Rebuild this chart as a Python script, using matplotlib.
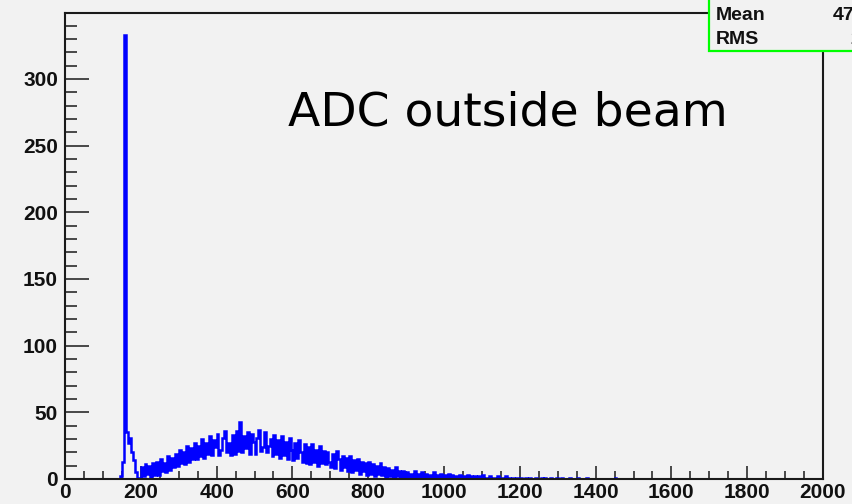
import numpy as np
import matplotlib
matplotlib.use("Agg")
import matplotlib.pyplot as plt
from matplotlib.patches import Rectangle
from matplotlib.ticker import MultipleLocator

# ADC spectrum, 5-count bins starting at 140
bin_start = 140
bin_width = 5
counts = [
    0, 2, 13, 333, 35, 27, 31, 20, 14, 5,        # 140-190
    1, 0, 9, 2, 11, 4, 10, 1, 12, 3,             # 190-240
    13, 3, 15, 6, 12, 5, 17, 7, 16, 9,           # 240-290
    19, 10, 22, 12, 20, 11, 25, 13, 23, 15,      # 290-340
    27, 15, 25, 17, 30, 16, 27, 19, 32, 18,      # 340-390
    29, 24, 34, 18, 22, 31, 36, 20, 27, 18,      # 390-440
    33, 19, 36, 21, 43, 20, 32, 23, 35, 19,      # 440-490
    34, 28, 19, 31, 37, 21, 24, 35, 20, 25,      # 490-540
    30, 17, 33, 19, 29, 16, 32, 18, 28, 15,      # 540-590
    31, 22, 14, 27, 16, 29, 20, 13, 26, 12,      # 590-640
    24, 11, 26, 13, 22, 10, 25, 12, 21, 11,      # 640-690
    20, 13, 9, 19, 8, 21, 15, 7, 17, 9,          # 690-740
    16, 6, 17, 5, 14, 7, 15, 4, 13, 6,           # 740-790
    12, 3, 13, 4, 11, 2, 10, 4, 12, 3,           # 790-840
    9, 1, 8, 2, 7, 1, 9, 2, 6, 1,                # 840-890
    6, 0, 5, 1, 4, 0, 6, 1, 4, 0,                # 890-940
    5, 0, 4, 1, 3, 0, 5, 0, 3, 1,                # 940-990
    4, 0, 3, 1, 4, 0, 3, 1, 2, 0,                # 990-1040
    3, 0, 2, 1, 3, 0, 2, 0, 2, 0,                # 1040-1090
    2, 0, 3, 0, 1, 0, 2, 0, 1, 0,                # 1090-1140
    2, 0, 1, 0, 2, 0, 1, 0, 1, 0,                # 1140-1190
    1, 0, 1, 0, 0, 1, 0, 1, 0, 0,                # 1190-1240
    1, 0, 0, 1, 0, 1, 0, 0, 1, 0,                # 1240-1290
    0, 1, 0, 0, 1, 0, 0, 0, 1, 0,                # 1290-1340
    0, 0, 1, 0, 0, 0, 0, 1, 0, 0,                # 1340-1390
    0, 0, 0, 0, 0, 0, 0, 0, 0, 0,                # 1390-1440
    0, 0, 1, 0, 0, 0, 0, 0, 0, 0,                # 1440-1490
]
title = "ADC outside beam"

counts = np.array(counts, dtype=float)
edges = bin_start + bin_width * np.arange(len(counts) + 1)
centers = 0.5 * (edges[:-1] + edges[1:])
mean = np.sum(counts * centers) / counts.sum()
rms = np.sqrt(np.sum(counts * (centers - mean) ** 2) / counts.sum())

W, H = 853, 504
bg = "#f2f2f2"
fig = plt.figure(figsize=(W / 100, H / 100), dpi=100, facecolor=bg)
ax = fig.add_axes([65 / W, 1 - 479 / H, (823 - 65) / W, (479 - 13) / H], facecolor=bg)

ax.stairs(counts, edges, color="#0000ff", lw=1.8, zorder=2)

ax.set_xlim(0, 2000)
ax.set_ylim(0, 349.5)
ax.xaxis.set_major_locator(MultipleLocator(200))
ax.xaxis.set_minor_locator(MultipleLocator(50))
ax.yaxis.set_major_locator(MultipleLocator(50))
ax.yaxis.set_minor_locator(MultipleLocator(10))

for s in ax.spines.values():
    s.set_linewidth(1.5)
    s.set_color("#1a1a1a")

ax.tick_params(axis="both", which="both", direction="in", color="#1a1a1a",
               width=1.1, top=False, right=False)
ax.tick_params(axis="x", which="major", length=9.5, pad=3)
ax.tick_params(axis="x", which="minor", length=5.5)
ax.tick_params(axis="y", which="major", length=17, pad=5)
ax.tick_params(axis="y", which="minor", length=8.5)
for lab in ax.get_xticklabels() + ax.get_yticklabels():
    lab.set_fontfamily("Liberation Sans")
    lab.set_fontweight("bold")
    lab.set_fontsize(15)
    lab.set_color("#111111")

fig.text(288 / W, 1 - 126 / H, title, fontsize=34, family="DejaVu Sans",
         ha="left", va="baseline", color="black")

# statistics box in the upper right corner
fig.patches.append(Rectangle((709 / W, 1 - 51 / H), 0.2, 0.2, transform=fig.transFigure,
                             facecolor=bg, edgecolor="#00ff00", lw=1.6, zorder=5))
stat_kw = dict(family="Liberation Sans", weight="bold", fontsize=14, va="center",
               ha="left", color="#111111", zorder=6)
fig.text(716 / W, 1 - 16 / H, "Mean", **stat_kw)
fig.text(716 / W, 1 - 40 / H, "RMS", **stat_kw)
fig.text(833 / W, 1 - 16 / H, f"{mean:.4g}", **stat_kw)
fig.text(850 / W, 1 - 40 / H, f"{rms:.4g}", **stat_kw)

fig.savefig("out.png", dpi=100, facecolor=bg)
